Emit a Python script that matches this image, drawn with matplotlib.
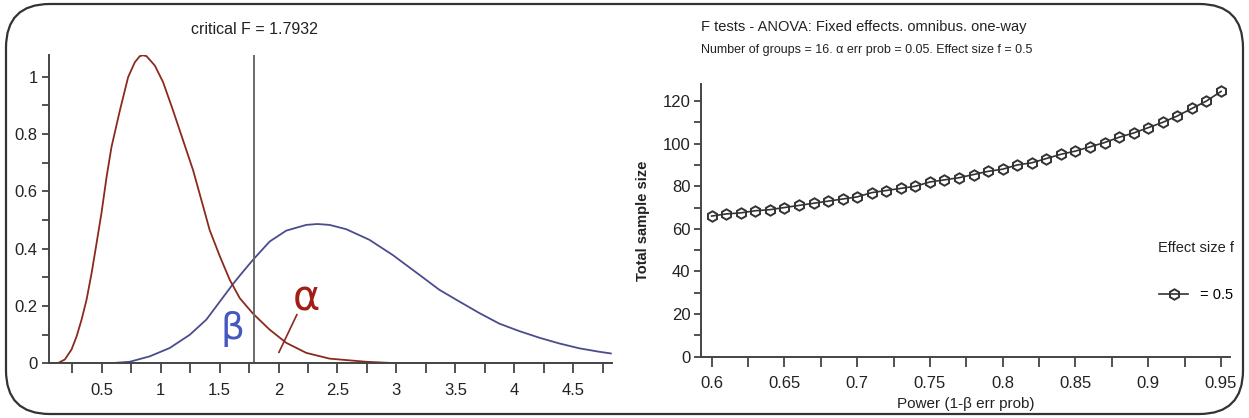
import matplotlib
matplotlib.use('Agg')
import matplotlib.pyplot as plt
from matplotlib.patches import FancyBboxPatch
from matplotlib.ticker import MultipleLocator

# left panel -------- central / noncentral F densities
central_x = [0.051, 0.13, 0.186, 0.243, 0.286, 0.328, 0.37, 0.413, 0.455, 0.497, 0.54,
             0.582, 0.653, 0.723, 0.78, 0.822, 0.85, 0.879, 0.95, 1.02, 1.104, 1.189,
             1.274, 1.358, 1.415, 1.5, 1.585, 1.67, 1.782, 1.924, 2.065, 2.235, 2.432,
             2.743, 3.0, 3.24, 4.83]
central_y = [0.0, 0.002, 0.014, 0.049, 0.095, 0.153, 0.222, 0.315, 0.419, 0.525, 0.65,
             0.755, 0.882, 0.998, 1.05, 1.071, 1.074, 1.071, 1.038, 0.98, 0.882, 0.778,
             0.674, 0.55, 0.465, 0.375, 0.292, 0.228, 0.174, 0.118, 0.072, 0.037, 0.017,
             0.006, 0.001, 0.0, 0.0]

noncentral_x = [0.051, 0.54, 0.737, 0.907, 1.076, 1.246, 1.387, 1.5, 1.613, 1.67, 1.782,
                1.924, 2.065, 2.235, 2.33, 2.432, 2.574, 2.771, 2.969, 3.195, 3.364,
                3.534, 3.703, 3.873, 4.042, 4.212, 4.381, 4.551, 4.72, 4.82]
noncentral_y = [0.0, 0.0, 0.006, 0.025, 0.054, 0.1, 0.153, 0.215, 0.277, 0.306, 0.361,
                0.425, 0.463, 0.483, 0.486, 0.483, 0.468, 0.431, 0.378, 0.309, 0.257,
                0.216, 0.176, 0.139, 0.113, 0.09, 0.07, 0.053, 0.041, 0.035]

critical_f = 1.7932

# right panel -------- total sample size vs power
power = [0.60, 0.61, 0.62, 0.63, 0.64, 0.65, 0.66, 0.67, 0.68, 0.69, 0.70, 0.71,
         0.72, 0.73, 0.74, 0.75, 0.76, 0.77, 0.78, 0.79, 0.80, 0.81, 0.82, 0.83,
         0.84, 0.85, 0.86, 0.87, 0.88, 0.89, 0.90, 0.91, 0.92, 0.93, 0.94, 0.95]
sample_size = [66, 67, 67.5, 68.5, 69, 70, 71, 72, 73, 74, 75, 77,
               78, 79, 80, 82, 83, 84, 85.5, 87, 88, 90, 91, 93,
               95, 96.5, 98.5, 100.5, 103, 105, 107.5, 110, 113, 116.5, 120, 124.5]

plt.rcParams['font.family'] = ['Liberation Sans', 'DejaVu Sans']

red_color = '#8a2a1e'
blue_color = '#4a4c8c'
axis_color = '#444444'
text_color = '#222222'

fig = plt.figure(figsize=(12.49, 4.18), dpi=100)

# outer rounded frame
frame = FancyBboxPatch((6 / 1249, 4 / 418), 1237 / 1249, 410 / 418,
                       boxstyle='round,pad=0,rounding_size=0.035',
                       transform=fig.transFigure, fill=False,
                       edgecolor='#333333', linewidth=1.6, mutation_aspect=1249 / 418)
fig.patches.append(frame)


def style_axes(ax):
    for side in ['top', 'right']:
        ax.spines[side].set_visible(False)
    for side in ['left', 'bottom']:
        ax.spines[side].set_color(axis_color)
        ax.spines[side].set_linewidth(1.4)
    ax.tick_params(axis='both', which='both', colors=axis_color, width=1.3,
                   labelcolor=text_color, labelsize=12)
    ax.tick_params(axis='x', which='both', length=7, pad=7)
    ax.tick_params(axis='y', which='both', length=5, pad=3)


# left chart
ax1 = fig.add_axes([0.0392, 0.1304, 0.4508, 0.738])
ax1.plot(noncentral_x, noncentral_y, color=blue_color, linewidth=1.3)
ax1.plot(central_x, central_y, color=red_color, linewidth=1.3)
ax1.axvline(critical_f, color='#6a6a6a', linewidth=1.4)
ax1.set_xlim(0.051, 4.83)
ax1.set_ylim(0, 1.075)
ax1.xaxis.set_minor_locator(MultipleLocator(0.25))
ax1.yaxis.set_minor_locator(MultipleLocator(0.1))
ax1.set_xticks([0.5, 1, 1.5, 2, 2.5, 3, 3.5, 4, 4.5])
ax1.set_xticklabels(['0.5', '1', '1.5', '2', '2.5', '3', '3.5', '4', '4.5'])
ax1.set_yticks([0, 0.2, 0.4, 0.6, 0.8, 1])
ax1.set_yticklabels(['0', '0.2', '0.4', '0.6', '0.8', '1'])
style_axes(ax1)
ax1.text(critical_f, 1.163, 'critical F = 1.7932', ha='center', va='center',
         fontsize=11.5, color=text_color, clip_on=False)
ax1.text(1.607, 0.12, 'β', color='#4458c0', fontsize=27, ha='center', va='center',
         family=['DejaVu Sans'])
ax1.text(2.24, 0.225, 'α', color='#a01e16', fontsize=30, ha='center', va='center',
         family=['DejaVu Sans'])
ax1.plot([2.003, 2.155], [0.039, 0.17], color=red_color, linewidth=1.2)

# right chart
ax2 = fig.add_axes([0.5616, 0.1467, 0.423, 0.6524])
line, = ax2.plot(power, sample_size, color='#333333', linewidth=1.2, marker='h',
                 markersize=7.5, markerfacecolor='none', markeredgecolor='#333333',
                 markeredgewidth=1.4)
ax2.set_xlim(0.593, 0.956)
ax2.set_ylim(0, 128)
ax2.set_xticks([0.6, 0.65, 0.7, 0.75, 0.8, 0.85, 0.9, 0.95])
ax2.set_xticklabels(['0.6', '0.65', '0.7', '0.75', '0.8', '0.85', '0.9', '0.95'])
ax2.xaxis.set_minor_locator(MultipleLocator(0.025))
ax2.set_yticks([0, 20, 40, 60, 80, 100, 120])
ax2.yaxis.set_minor_locator(MultipleLocator(10))
style_axes(ax2)
ax2.set_ylabel('Total sample size', fontsize=10.5, fontweight='bold',
               color=text_color, labelpad=9)
ax2.set_xlabel('Power (1-β err prob)', fontsize=11, color=text_color, labelpad=4)

fig.text(701 / 1249, 1 - 27 / 418, 'F tests - ANOVA: Fixed effects. omnibus. one-way',
         fontsize=10.5, color=text_color, va='center', ha='left')
fig.text(701 / 1249, 1 - 50 / 418,
         'Number of groups = 16. α err prob = 0.05. Effect size f = 0.5',
         fontsize=9, color=text_color, va='center', ha='left')

# legend
fig.text(1158 / 1249, 1 - 248 / 418, 'Effect size f', fontsize=10.5,
         color=text_color, va='center', ha='left')
fig.legend([line], ['= 0.5'], loc='center left',
           bbox_to_anchor=(1159 / 1249, 1 - 295 / 418), bbox_transform=fig.transFigure,
           frameon=False, fontsize=10.5, borderpad=0, borderaxespad=0,
           handlelength=2.0, handletextpad=0.8)

fig.savefig('out.png', dpi=100, facecolor='white')
